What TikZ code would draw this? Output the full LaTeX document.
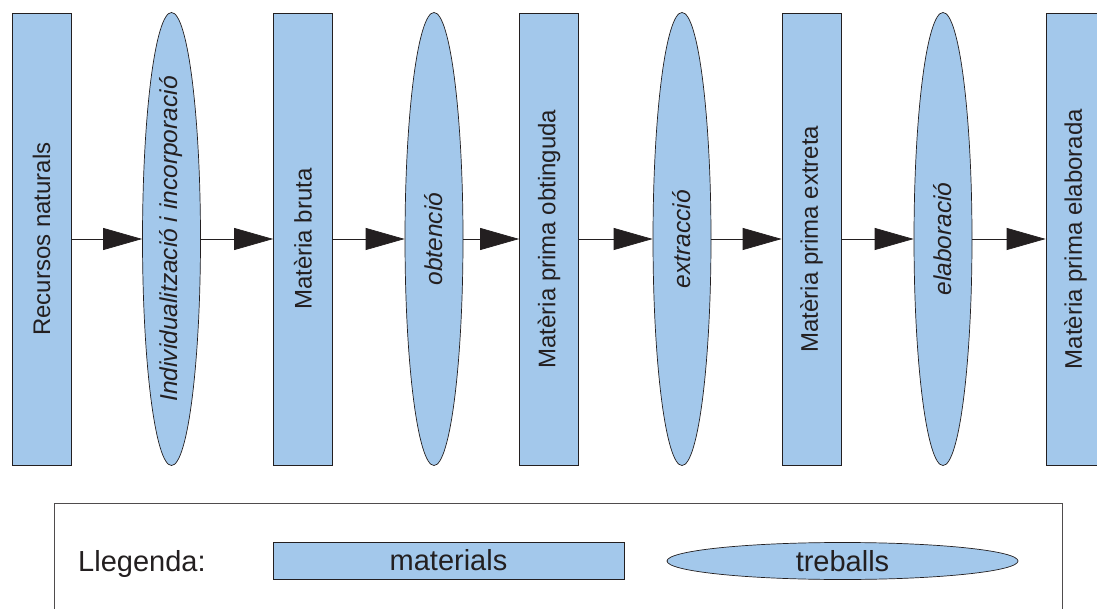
\documentclass[tikz,border=0pt]{standalone}
\usepackage{fontspec}
\setmainfont{Liberation Sans}
\usetikzlibrary{shapes.geometric,arrows.meta}
\definecolor{boxblue}{HTML}{A3C8EB}
\definecolor{ink}{HTML}{231F20}
\begin{document}
\begin{tikzpicture}[x=1pt,y=-1pt,
  mat/.style={draw=ink, line width=0.7pt, fill=boxblue, rectangle, minimum width=59pt, minimum height=452pt, inner sep=0pt},
  proc/.style={draw=ink, line width=0.7pt, fill=boxblue, ellipse, minimum width=58pt, minimum height=453pt, inner sep=0pt},
  lbl/.style={rotate=90, inner sep=0pt, text=ink, font=\fontsize{24}{24}\selectfont},
  ilbl/.style={rotate=90, inner sep=0pt, text=ink, font=\fontsize{24.5}{24.5}\selectfont\itshape},
  flow/.style={draw=ink, line width=0.7pt, -{Triangle[length=39pt,width=22pt]}},
  legtxt/.style={inner sep=0pt, text=ink, font=\fontsize{29}{29}\selectfont}]
\useasboundingbox (0,0) rectangle (1097,609);
\clip (0,0) rectangle (1097,609);
% materials and processes
\node[mat]  (r1) at (41.5,239) {};
\node[proc] (e1) at (171.5,239) {};
\node[mat]  (r2) at (303,239) {};
\node[proc] (e2) at (434,239) {};
\node[mat]  (r3) at (549,239) {};
\node[proc] (e3) at (682,239) {};
\node[mat]  (r4) at (811.5,239) {};
\node[proc] (e4) at (943,239) {};
\node[mat]  (r5) at (1075.5,239) {};
% labels
\node[lbl]  (t1) at (r1) {Recursos naturals};
\node[ilbl] (t2) at (e1) {Individualització i incorporació};
\node[lbl]  (t3) at (r2) {Matèria bruta};
\node[ilbl] (t4) at (e2) {obtenció};
\node[lbl]  (t5) at (r3) {Matèria prima obtinguda};
\node[ilbl] (t6) at (e3) {extracció};
\node[lbl]  (t7) at (r4) {Matèria prima extreta};
\node[ilbl] (t8) at (e4) {elaboració};
\node[lbl]  (t9) at (r5) {Matèria prima elaborada};
% connectors
\draw[flow] (r1.east) -- (e1.west);
\draw[flow] (e1.east) -- (r2.west);
\draw[flow] (r2.east) -- (e2.west);
\draw[flow] (e2.east) -- (r3.west);
\draw[flow] (r3.east) -- (e3.west);
\draw[flow] (e3.east) -- (r4.west);
\draw[flow] (r4.east) -- (e4.west);
\draw[flow] (e4.east) -- (r5.west);
% legend
\node[draw=ink!80, line width=0.7pt, rectangle, minimum width=1008pt, minimum height=140pt, inner sep=0pt] (leg) at (558,573) {};
\node[legtxt, anchor=west] (lt) at (78,564) {Llegenda:};
\node[mat, minimum width=351pt, minimum height=37pt] (lm) at (448.5,560.5) {};
\node[legtxt] at (lm) {materials};
\node[proc, minimum width=351pt, minimum height=37pt] (lp) at (842.5,561) {};
\node[legtxt] at (lp) {treballs};
\end{tikzpicture}
\end{document}
